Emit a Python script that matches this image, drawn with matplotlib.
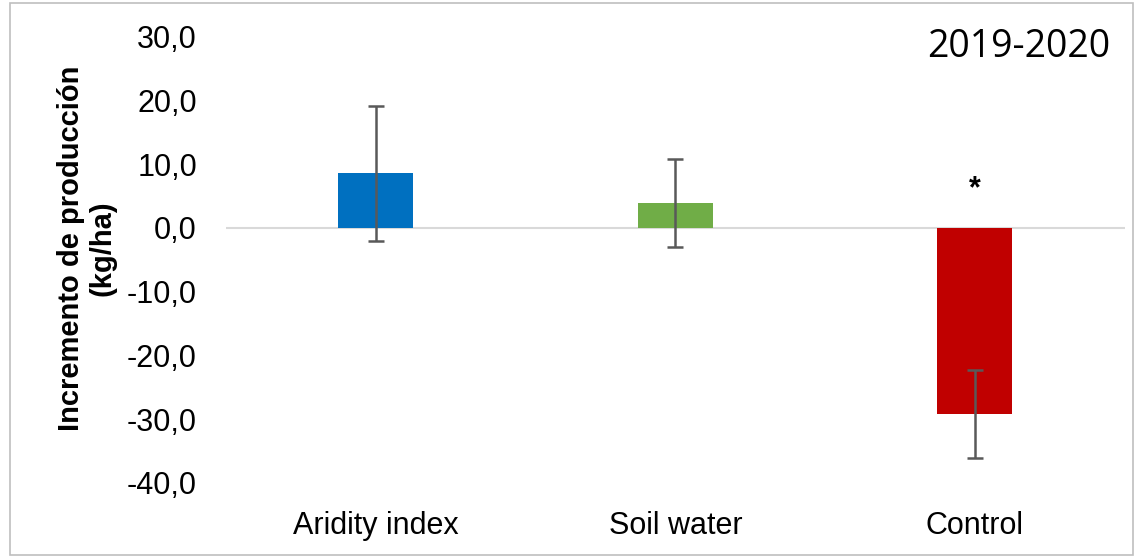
import matplotlib
matplotlib.use("Agg")
import matplotlib.pyplot as plt
from matplotlib.patches import Rectangle
from matplotlib.ticker import FuncFormatter

categories = ["Aridity index", "Soil water", "Control"]
values = [8.6, 3.9, -29.2]
errors = [10.6, 6.9, 6.9]
colors = ["#0070C0", "#70AD47", "#C00000"]
yticks = [30, 20, 10, 0, -10, -20, -30, -40]
star_value = 6.0

plt.rcParams['font.family'] = ['Liberation Sans', 'DejaVu Sans']

fig = plt.figure(figsize=(11.36, 5.57), dpi=100)
ax = fig.add_axes([0.199, 0.133, 0.791, 0.801])

x = list(range(len(categories)))
ax.bar(x, values, width=0.25, color=colors, zorder=2)
ax.errorbar(x, values, yerr=errors, fmt='none', ecolor='#595959',
            elinewidth=1.8, capsize=6, capthick=1.8, zorder=3)
ax.axhline(0, color='#D9D9D9', lw=1.5, zorder=1)

ax.set_xlim(-0.5, 2.5)
ax.set_ylim(-40, 30)
ax.set_yticks(yticks)
ax.yaxis.set_major_formatter(FuncFormatter(lambda v, p: f"{v:.1f}".replace('.', ',')))
ax.set_xticks(x)
ax.set_xticklabels(categories)
ax.tick_params(axis='both', length=0, labelsize=22)
ax.tick_params(axis='x', pad=20)
ax.tick_params(axis='y', pad=21)
for s in ax.spines.values():
    s.set_visible(False)

ax.set_ylabel("Incremento de producción\n(kg/ha)", fontsize=21, fontweight='bold', linespacing=1.15)
ax.yaxis.set_label_coords(-0.122, 0.525)

ax.text(2, star_value, "*", ha='center', va='center', fontsize=22, fontweight='bold')
fig.text(0.977, 0.915, "2019-2020", ha='right', va='center', fontsize=27,
         family=['Open Sans', 'DejaVu Sans'])

fig.patches.append(Rectangle((0.009, 0.003), 0.988, 0.992, transform=fig.transFigure,
                             fill=False, edgecolor='#BFBFBF', lw=1.2))

fig.savefig("out.png", dpi=100)
